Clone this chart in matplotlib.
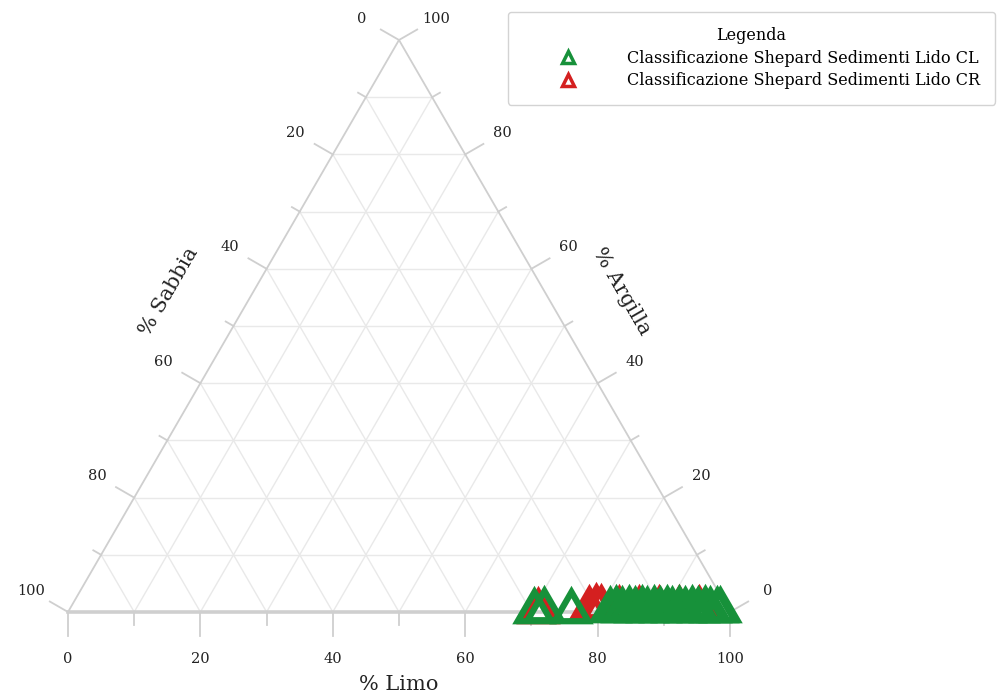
import numpy as np
import matplotlib.pyplot as plt
from matplotlib.lines import Line2D

# ----------------------------
# Data (percentages)
# ----------------------------
cl_limo = [70.3, 71.8, 75.9, 81.6, 82.6, 83.5, 84.5, 85.4, 86.4, 87.3, 88.3, 89.2,
           90.2, 91.1, 92.1, 93.0, 94.0, 94.9, 95.9, 96.8, 97.8, 98.4]
cl_argilla = [0.2, 0.3, 0.2, 0.4, 0.5, 0.4, 0.5, 0.4, 0.5, 0.4, 0.5, 0.4,
              0.5, 0.4, 0.5, 0.4, 0.5, 0.4, 0.5, 0.4, 0.4, 0.3]

cr_limo = [70.9, 78.4, 79.3, 80.2, 83.0, 86.0, 89.0, 92.0, 95.0]
cr_argilla = [0.1, 0.6, 0.8, 0.7, 0.6, 0.6, 0.6, 0.6, 0.6]

tick_values = list(range(0, 101, 10))
major_values = list(range(0, 101, 20))

green = "#17913a"
red = "#d42020"
grid_color = "#e9e9e9"
edge_color = "#cfcfcf"
H = np.sqrt(3) / 2

plt.rcParams["font.family"] = ["DejaVu Serif"]


def to_xy(limo, argilla):
    limo = np.asarray(limo, dtype=float)
    argilla = np.asarray(argilla, dtype=float)
    return limo + argilla / 2, argilla * H


fig = plt.figure(figsize=(9.98, 6.97), dpi=100)
ax = fig.add_axes([68 / 998, 1 - 612 / 697, 662 / 998, 572 / 697])
ax.set_xlim(0, 100)
ax.set_ylim(0, 100 * H)
ax.axis("off")

# grid lines every 10%
for k in range(10, 100, 10):
    ax.plot([k / 2, 100 - k / 2], [k * H, k * H], color=grid_color, lw=1.0, zorder=1, clip_on=False)
    ax.plot([k, k + (100 - k) / 2], [0, (100 - k) * H], color=grid_color, lw=1.0, zorder=1, clip_on=False)
    ax.plot([100 - k, (100 - k) / 2], [0, (100 - k) * H], color=grid_color, lw=1.0, zorder=1, clip_on=False)

# triangle edges
ax.plot([0, 50, 100], [0, 100 * H, 0], color=edge_color, lw=1.3, zorder=2, clip_on=False)
ax.plot([0, 100], [0, 0], color=edge_color, lw=2.6, zorder=2, clip_on=False)

px = 6.62  # pixels per data unit
lab_kw = dict(fontsize=10.5, color="#222222", ha="center", va="center")

# bottom axis: % Limo
for v in tick_values:
    length = 24 / px if v in major_values else 13 / px
    ax.plot([v, v], [0, -length], color=edge_color, lw=1.3, clip_on=False)
for v in major_values:
    ax.text(v, -47 / px, str(v), **lab_kw)

# left axis: % Sabbia (0 at top, 100 at bottom-left)
nl = np.array([-H, 0.5])
for v in tick_values:
    bx, by = (100 - v) / 2, (100 - v) * H
    length = 21 / px if v in major_values else 9 / px
    ax.plot([bx, bx + nl[0] * length], [by, by + nl[1] * length], color=edge_color, lw=1.3, clip_on=False)
for v in major_values:
    bx, by = (100 - v) / 2, (100 - v) * H
    ax.text(bx + nl[0] * 43 / px, by + nl[1] * 43 / px, str(v), **lab_kw)

# right axis: % Argilla (100 at top, 0 at bottom-right)
nr = np.array([H, 0.5])
for v in tick_values:
    bx, by = 100 - v / 2, v * H
    length = 21 / px if v in major_values else 9 / px
    ax.plot([bx, bx + nr[0] * length], [by, by + nr[1] * length], color=edge_color, lw=1.3, clip_on=False)
for v in major_values:
    bx, by = 100 - v / 2, v * H
    ax.text(bx + nr[0] * 43 / px, by + nr[1] * 43 / px, str(v), **lab_kw)

# axis titles
ax.text(50, -73 / px, "% Limo", fontsize=15, ha="center", va="center", color="#222222")
ax.text(15.3, 48.5, "% Sabbia", fontsize=15, rotation=60, ha="center", va="center", color="#222222")
ax.text(83.6, 48.5, "% Argilla", fontsize=15, rotation=-60, ha="center", va="center", color="#222222")

# samples
x, y = to_xy(cr_limo, cr_argilla)
ax.plot(x, y, linestyle="none", marker=(3, 0, 0), markersize=28, markeredgewidth=4.5,
        markeredgecolor=red, markerfacecolor="none", zorder=5, clip_on=False)
x, y = to_xy(cl_limo, cl_argilla)
ax.plot(x, y, linestyle="none", marker=(3, 0, 0), markersize=28, markeredgewidth=4.5,
        markeredgecolor=green, markerfacecolor="none", zorder=6, clip_on=False)

handles = [
    Line2D([], [], linestyle="none", marker="^", markersize=9, markeredgewidth=2.5,
           markeredgecolor=green, markerfacecolor="white"),
    Line2D([], [], linestyle="none", marker="^", markersize=9, markeredgewidth=2.5,
           markeredgecolor=red, markerfacecolor="white"),
]
leg = fig.legend(
    handles,
    ["Classificazione Shepard Sedimenti Lido CL", "Classificazione Shepard Sedimenti Lido CR"],
    title="Legenda",
    loc="upper right",
    bbox_to_anchor=(995 / 998, 1 - 12 / 697),
    fontsize=11.5,
    title_fontsize=11.5,
    frameon=True,
    fancybox=True,
    handlelength=5.6,
    handletextpad=0.9,
    borderpad=0.95,
    labelspacing=0.35,
    borderaxespad=0,
)
leg.get_frame().set_edgecolor("#c8c8c8")
leg.get_frame().set_linewidth(1.0)

fig.savefig("out.png", dpi=100)
